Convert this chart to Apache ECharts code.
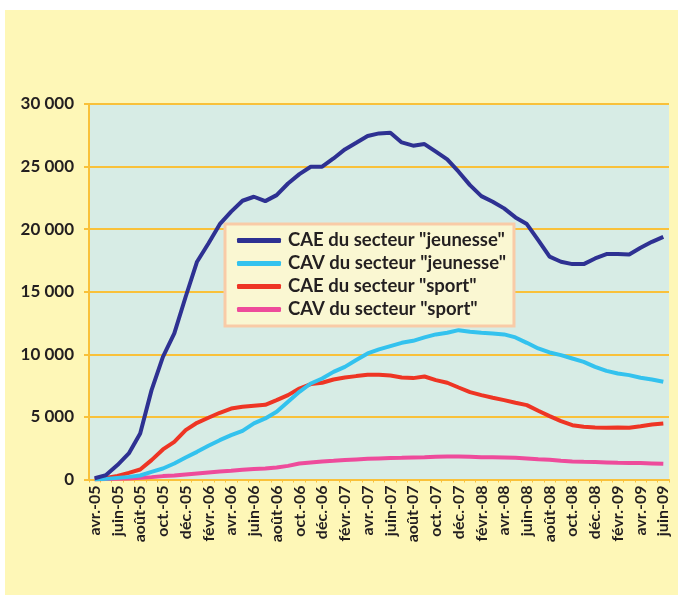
<!DOCTYPE html>
<html>
<head>
<meta charset="utf-8">
<script src="https://cdn.jsdelivr.net/npm/echarts@6/dist/echarts.min.js"></script>
<style>
html,body{margin:0;padding:0;background:#fff;}
#c{width:678px;height:595px;}
</style>
</head>
<body>
<div id="c"></div>
<script>
var months = ["avr.-05","mai-05","juin-05","juil.-05","août-05","sept.-05","oct.-05","nov.-05","déc.-05","janv.-06","févr.-06","mars-06",
"avr.-06","mai-06","juin-06","juil.-06","août-06","sept.-06","oct.-06","nov.-06","déc.-06","janv.-07","févr.-07","mars-07",
"avr.-07","mai-07","juin-07","juil.-07","août-07","sept.-07","oct.-07","nov.-07","déc.-07","janv.-08","févr.-08","mars-08",
"avr.-08","mai-08","juin-08","juil.-08","août-08","sept.-08","oct.-08","nov.-08","déc.-08","janv.-09","févr.-09","mars-09",
"avr.-09","mai-09","juin-09"];

var caeJeunesse = [100,350,1150,2080,3680,7140,9800,11670,14600,17400,18860,20400,21400,22270,22590,22240,22720,
23650,24400,24990,24990,25650,26370,26900,27440,27650,27700,26930,26670,26800,26190,25570,24590,23520,
22640,22190,21660,20940,20410,19130,17800,17400,17210,17210,17660,18010,18010,17980,18510,18990,19390];

var cavJeunesse = [0,50,130,210,320,610,880,1280,1760,2210,2690,3140,3540,3890,4480,4880,5410,
6210,7010,7670,8070,8600,9000,9540,10070,10390,10660,10920,11080,11350,11590,11720,11930,11800,
11720,11670,11590,11350,10920,10470,10150,9940,9670,9400,9000,8680,8470,8340,8130,7990,7810];

var caeSport = [50,130,290,530,800,1550,2400,3010,3940,4530,4930,5330,5670,5810,5890,5970,6340,
6740,7270,7620,7730,7990,8150,8260,8360,8360,8310,8150,8100,8230,7940,7730,7350,6980,
6740,6530,6340,6130,5940,5490,5060,4660,4340,4210,4160,4130,4160,4130,4260,4400,4480];

var cavSport = [0,30,60,80,130,190,270,320,400,480,560,640,690,770,830,880,960,
1090,1280,1360,1440,1490,1550,1600,1650,1680,1710,1730,1760,1780,1810,1840,1840,1810,
1780,1780,1760,1730,1680,1620,1570,1490,1440,1410,1390,1360,1330,1310,1310,1280,1250];

var seriesNames = ['CAE du secteur "jeunesse"','CAV du secteur "jeunesse"','CAE du secteur "sport"','CAV du secteur "sport"'];
var seriesData = [caeJeunesse, cavJeunesse, caeSport, cavSport];
var colors = ['#2E3192','#33C2EE','#EE3524','#EE4B9B'];

var FONT = 'Lato, sans-serif';
var TXT = '#231F20';
var chart = echarts.init(document.getElementById('c'), null, {renderer:'canvas'});
chart.setOption({
  backgroundColor:'#ffffff',
  animation:false,
  graphic:[{type:'rect', z:-10, shape:{x:5,y:10,width:673,height:585}, style:{fill:'#FEF7B7'}}],
  grid:{left:89,right:9,top:104,bottom:115.5,show:true,backgroundColor:'#D7ECE5',borderWidth:0},
  legend:{
    left:225, top:224, orient:'vertical',
    backgroundColor:'#FAF7D2', borderColor:'#F9CBA7', borderWidth:3,
    padding:[5,8,5,12],
    itemWidth:44, itemHeight:5, itemGap:0, icon:'roundRect',
    textStyle:{fontFamily:FONT,fontWeight:'bold',fontSize:18.5,color:TXT,lineHeight:23,padding:[0,0,0,2]},
    data:seriesNames.map(function(n,i){return {name:n,itemStyle:{color:colors[i]}};})
  },
  xAxis:{
    type:'category', data:months, boundaryGap:true,
    axisLine:{lineStyle:{color:'#F9C13A',width:2}},
    axisTick:{show:true,interval:0,length:3,lineStyle:{color:'#F9C13A',width:1}},
    axisLabel:{interval:1,rotate:90,margin:6,fontFamily:FONT,fontWeight:'bold',fontSize:16,color:TXT},
    splitLine:{show:false}
  },
  yAxis:{
    type:'value', min:0, max:30000, interval:5000,
    axisLine:{show:true,lineStyle:{color:'#F9C13A',width:2}},
    axisTick:{show:true,length:5,lineStyle:{color:'#F9C13A',width:2}},
    axisLabel:{margin:15,fontFamily:FONT,fontWeight:'bold',fontSize:17,color:TXT,
      formatter:function(v){return String(v).replace(/\B(?=(\d{3})+(?!\d))/g,' ');}},
    splitLine:{show:true,lineStyle:{color:'#F9C13A',width:2}}
  },
  series:seriesData.map(function(d,i){
    return {name:seriesNames[i],type:'line',data:d,symbol:'none',
      lineStyle:{color:colors[i],width:4},itemStyle:{color:colors[i]},z:10-i};
  })
});
</script>
</body>
</html>
